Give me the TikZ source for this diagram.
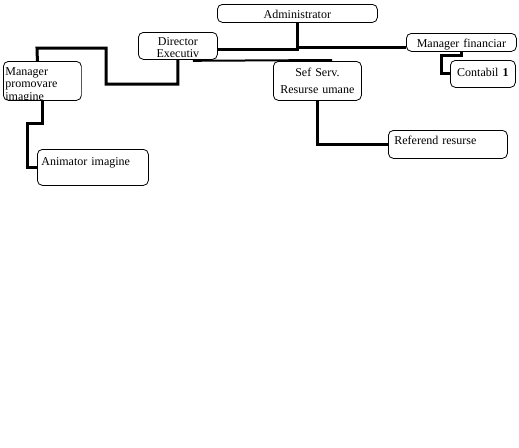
\documentclass[tikz,border=0pt]{standalone}
\usepackage{fontspec}
\setmainfont{Liberation Serif}
\begin{document}
\begin{tikzpicture}[x=1pt,y=-1pt,
  box/.style={draw, line width=0.8pt, rounded corners=5pt, anchor=north west,
    inner ysep=0pt, font=\fontsize{12pt}{12.5pt}\selectfont},
  conn/.style={line width=3pt, line join=miter},
  thinconn/.style={line width=2pt}]
\useasboundingbox (0,0) rectangle (519,447);

\node[box, minimum width=160pt, minimum height=18pt, inner xsep=2pt, text width=156pt,
  text height=14pt, text depth=4pt, align=center] (adm) at (217,4) {Administrator};
\node[box, minimum width=79pt, minimum height=27pt, inner xsep=2pt, text width=75pt,
  text height=12.7pt, text depth=14.3pt, align=center,
  font=\fontsize{12pt}{12.5pt}\selectfont] (dir) at (138,32) {Director\\Executiv};
\begin{scope}
  \clip (2.5,60.5) rectangle (81.5,100.4);
  \node[box, minimum width=78pt, minimum height=39pt, inner xsep=2pt, text width=74pt,
    text height=14pt, text depth=25pt, align=left] (mp) at (3,61) {Manager\\promovare\\imagine};
\end{scope}
\node[box, minimum width=88pt, minimum height=39pt, inner xsep=2pt, text width=84pt,
  text height=15pt, text depth=24pt, align=center,
  font=\fontsize{12pt}{16.7pt}\selectfont] (sef) at (273,61) {Sef Serv.\\Resurse umane};
\node[box, minimum width=110pt, minimum height=18pt, inner xsep=2pt, text width=106pt,
  text height=14pt, text depth=4pt, align=center] (mf) at (406,33) {Manager financiar};
\node[box, minimum width=65pt, minimum height=27pt, inner xsep=2pt, text width=61pt,
  text height=16pt, text depth=11pt, align=center] (cont) at (450,60) {Contabil \textbf{1}};
\node[box, minimum width=111pt, minimum height=36pt, inner xsep=4pt, text width=103pt,
  text height=16pt, text depth=20pt, align=left] (anim) at (37,149) {Animator imagine};
\node[box, minimum width=119pt, minimum height=28pt, inner xsep=6pt, text width=107pt,
  text height=14pt, text depth=14pt, align=left] (ref) at (388,130) {Referend resurse};

% connectors
\draw[conn] (adm.south) |- ([yshift=-4pt]dir.east);
\draw[conn] (adm.south) |- ([yshift=-5pt]mf.west);
\draw[thinconn] ([xshift=-25pt,yshift=-1pt]dir.south east) -- ([xshift=59pt,yshift=1pt]sef.north west);
\draw[conn] (dir.south) |- (106,84) |- (37,48) -- ([xshift=-5pt]mp.north);
\draw[conn] (mp.south) |- (27,123) |- (anim.west);
\draw[conn] (sef.south) |- (ref.west);
\draw[conn] (mf.south) |- (441,55) |- (cont.west);
\end{tikzpicture}
\end{document}
